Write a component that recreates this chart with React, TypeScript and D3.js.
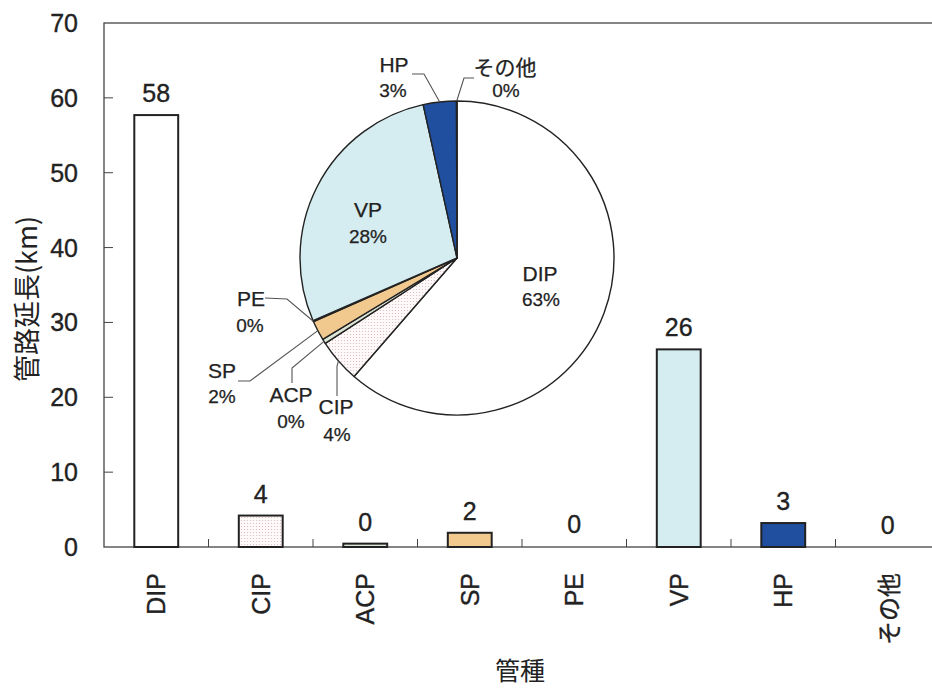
import * as d3 from 'd3'

// 管種別の管路延長 (km)
const categories = ['DIP', 'CIP', 'ACP', 'SP', 'PE', 'VP', 'HP', 'その他']
const lengths = [57.7, 4.2, 0.45, 1.9, 0.1, 26.4, 3.2, 0.05]
const barLabels = ['58', '4', '0', '2', '0', '26', '3', '0']
const pctLabels = ['63%', '4%', '0%', '2%', '0%', '28%', '3%', '0%']
const yTicks = [0, 10, 20, 30, 40, 50, 60, 70]

const fills = ['#ffffff', 'url(#dots)', '#dde6d6', '#f1c98f', '#ffffff', '#d5edf1', '#1f4f9e', '#ffffff']

const W = 932
const H = 691
const margin = { left: 104, right: -8, top: 23, bottom: 144 }
const LATIN = '"Liberation Sans", Arial, sans-serif'
const CJK = '"Noto Sans CJK JP", "Noto Sans", sans-serif'
const INK = '#222'

// pie label layout: [name x, name baseline, pct x, pct baseline]
const pieText: Record<string, [number, number, number, number]> = {
  DIP: [540, 281, 541, 306],
  CIP: [336, 414, 337, 441],
  ACP: [291, 402, 291, 428],
  SP: [222, 378, 222, 403],
  PE: [251, 306, 250, 332],
  VP: [368, 217, 368, 243],
  HP: [394, 72, 393, 97],
  'その他': [505, 75, 506, 97],
}
// leader lines: label end and elbow, the third point is on the rim
const leaders: Record<string, [number, number][]> = {
  CIP: [[337, 396], [337, 366]],
  ACP: [[292, 383], [292, 368]],
  SP: [[238, 381], [250, 381]],
  PE: [[265, 298], [287, 299]],
  HP: [[412, 74], [424, 74]],
  'その他': [[474, 78], [464, 78]],
}

export default function App() {
  const x0 = margin.left
  const x1 = W - margin.right
  const y0 = H - margin.bottom
  const y1 = margin.top

  const x = d3.scaleBand<string>().domain(categories).range([x0, x1]).padding(0)
  const y = d3.scaleLinear().domain([0, 70]).range([y0, y1])
  const barW = x.bandwidth() * 0.42

  const cx = 457
  const cy = 258
  const r = 157
  const pie = d3.pie<number>().sort(null).value(d => d)(lengths)
  const arc = d3.arc<d3.PieArcDatum<number>>().innerRadius(0).outerRadius(r)
  const rim = d3.arc<d3.PieArcDatum<number>>().innerRadius(r * 2).outerRadius(0)

  const heavy = { stroke: INK, strokeWidth: 0.35 }

  return (
    <svg width={W} height={H} style={{ position: 'absolute', left: 0, top: 0, background: '#fff' }}>
      <defs>
        <pattern id="dots" width="3" height="3" patternUnits="userSpaceOnUse">
          <rect width="3" height="3" fill="#fefafa" />
          <circle cx="1.5" cy="1.5" r="0.6" fill="#dfb5be" />
        </pattern>
      </defs>

      {/* frame */}
      <rect x={x0} y={y1} width={x1 - x0} height={y0 - y1} fill="none" stroke="#444" strokeWidth={1.3} />

      {/* y ticks */}
      {yTicks.map(t => (
        <g key={t}>
          {t > 0 && t < 70 && <line x1={x0} x2={x0 + 9} y1={y(t)} y2={y(t)} stroke="#444" strokeWidth={1} />}
          <text x={78} y={y(t)} textAnchor="end" dominantBaseline="central" fontFamily={LATIN} fontSize={25} fill={INK} {...heavy}>
            {t}
          </text>
        </g>
      ))}

      {/* x ticks on band edges */}
      {categories.slice(1).map(c => (
        <line key={c} x1={x(c)!} x2={x(c)!} y1={y0} y2={y0 - 8} stroke="#444" strokeWidth={1} />
      ))}

      {/* bars */}
      {categories.map((c, i) => {
        const bx = x(c)! + (x.bandwidth() - barW) / 2
        const top = y(lengths[i])
        return (
          <g key={c}>
            {lengths[i] >= 0.3 && (
              <rect x={bx} y={top} width={barW} height={y0 - top} fill={fills[i]} stroke={INK} strokeWidth={2} />
            )}
            <text x={x(c)! + x.bandwidth() / 2} y={top - 13} textAnchor="middle" fontFamily={LATIN} fontSize={25} fill={INK} {...heavy}>
              {barLabels[i]}
            </text>
            <text
              transform={`translate(${x(c)! + x.bandwidth() / 2},573) rotate(-90)`}
              textAnchor="end"
              dominantBaseline="central"
              fontFamily={c === 'その他' ? CJK : LATIN}
              fontSize={c === 'その他' ? 24 : 25}
              fill={INK}
              {...heavy}
            >
              {c}
            </text>
          </g>
        )
      })}

      {/* axis titles */}
      <text transform="translate(25,299) rotate(-90)" textAnchor="middle" dominantBaseline="central" fontFamily={CJK} fontSize={27} fill={INK}>
        管路延長(km)
      </text>
      <text x={520} y={680} textAnchor="middle" fontFamily={CJK} fontSize={25} fill={INK}>
        管種
      </text>

      {/* pie */}
      <g transform={`translate(${cx},${cy})`}>
        {pie.map((p, i) => (
          <path key={categories[i]} d={arc(p) || ''} fill={fills[i]} stroke={INK} strokeWidth={1.4} strokeLinejoin="round" />
        ))}
      </g>

      {/* leader lines */}
      {pie.map((p, i) => {
        const pts = leaders[categories[i]]
        if (!pts) return null
        const [mx, my] = rim.centroid(p)
        const path = d3.line()([...pts, [cx + mx, cy + my]])
        return <path key={categories[i]} d={path || ''} fill="none" stroke="#555" strokeWidth={1.1} />
      })}

      {/* pie labels */}
      {categories.map((c, i) => {
        const [nx, ny, px, py] = pieText[c]
        return (
          <g key={c} fill={INK} textAnchor="middle">
            <text x={nx} y={ny} fontFamily={c === 'その他' ? CJK : LATIN} fontSize={21} {...heavy} strokeWidth={0.25}>
              {c}
            </text>
            <text x={px} y={py} fontFamily={LATIN} fontSize={19} {...heavy} strokeWidth={0.25}>
              {pctLabels[i]}
            </text>
          </g>
        )
      })}
    </svg>
  )
}
